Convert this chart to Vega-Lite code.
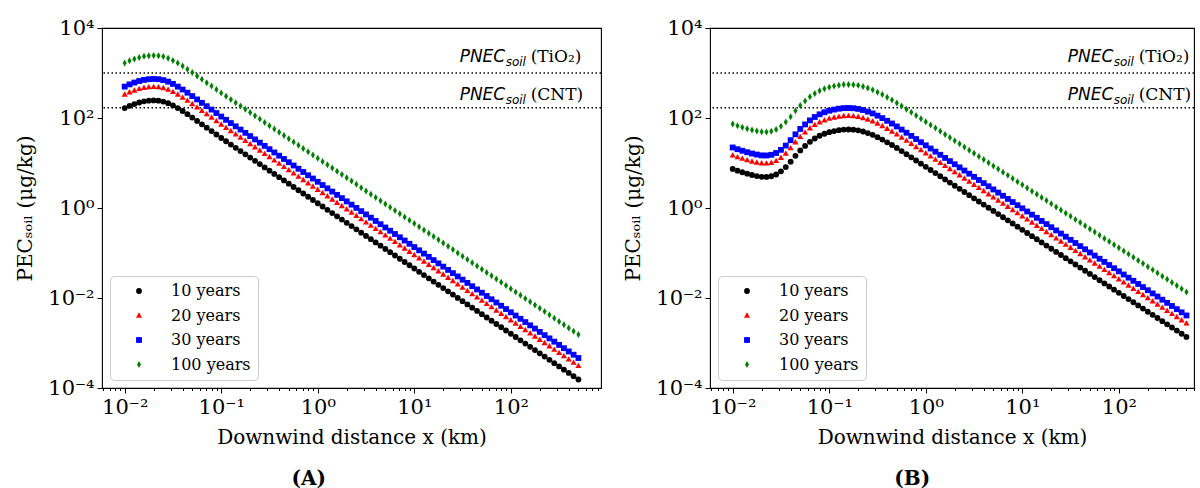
{
"$schema": "https://vega.github.io/schema/vega-lite/v6.json",
"background": "white",
"padding": {"left": 15, "top": 16, "right": 0, "bottom": 0},
"spacing": 20,
"config": {
  "view": {"stroke": "#000000", "strokeWidth": 1.1},
  "axis": {"domain": false, "grid": false, "labelFont": "DejaVu Serif", "labelFontSize": 21, "labelColor": "#000000", "tickColor": "#000000", "tickWidth": 1, "titleFont": "DejaVu Serif", "titleFontSize": 20, "titleFontWeight": "normal", "titleColor": "#000000", "labelPadding": 3, "labelFlush": false, "labelOverlap": false, "labelBound": false},
  "legend": {"orient": "bottom-left", "offset": 8, "title": null, "labelFont": "DejaVu Serif", "labelFontSize": 16, "labelColor": "#000000", "fillColor": "#ffffff", "strokeColor": "#cccccc", "cornerRadius": 4, "padding": 7, "rowPadding": 8.5, "symbolOffset": 14, "labelOffset": 24, "symbolStrokeWidth": 0, "symbolSize": 34},
  "title": {"font": "DejaVu Serif", "fontSize": 20, "fontWeight": "bold", "color": "#000000"}
},
"datasets": {
"pnec": [{"y": 1000}, {"y": 170}],
"lab": [{"a": "PNEC", "b": "soil", "c": "(TiO₂)", "x": 29.5, "y": 1730}, {"a": "PNEC", "b": "soil", "c": "(CNT)", "x": 29.5, "y": 247}],
"A": [
{"s":"10 years","x":0.01,"y":166},{"s":"10 years","x":0.01122,"y":186.2},{"s":"10 years","x":0.01259,"y":204.2},{"s":"10 years","x":0.01413,"y":221.3},{"s":"10 years","x":0.01585,"y":234.4},{"s":"10 years","x":0.01778,"y":242.7},{"s":"10 years","x":0.01995,"y":245.5},{"s":"10 years","x":0.02239,"y":242.7},{"s":"10 years","x":0.02512,"y":231.7},{"s":"10 years","x":0.02818,"y":213.8},
{"s":"10 years","x":0.03162,"y":190.5},{"s":"10 years","x":0.03548,"y":166},{"s":"10 years","x":0.03981,"y":142.9},{"s":"10 years","x":0.04467,"y":121.6},{"s":"10 years","x":0.05012,"y":102.3},{"s":"10 years","x":0.05623,"y":86.1},{"s":"10 years","x":0.0631,"y":72.44},{"s":"10 years","x":0.07079,"y":60.95},{"s":"10 years","x":0.07943,"y":51.29},{"s":"10 years","x":0.08913,"y":42.9},
{"s":"10 years","x":0.1,"y":35.89},{"s":"10 years","x":0.1122,"y":30.37},{"s":"10 years","x":0.1259,"y":25.7},{"s":"10 years","x":0.1413,"y":21.75},{"s":"10 years","x":0.1585,"y":18.41},{"s":"10 years","x":0.1778,"y":15.58},{"s":"10 years","x":0.1995,"y":13.18},{"s":"10 years","x":0.2239,"y":11.16},{"s":"10 years","x":0.2512,"y":9.441},{"s":"10 years","x":0.2818,"y":7.989},
{"s":"10 years","x":0.3162,"y":6.761},{"s":"10 years","x":0.3548,"y":5.721},{"s":"10 years","x":0.3981,"y":4.842},{"s":"10 years","x":0.4467,"y":4.097},{"s":"10 years","x":0.5012,"y":3.467},{"s":"10 years","x":0.5623,"y":2.934},{"s":"10 years","x":0.631,"y":2.483},{"s":"10 years","x":0.7079,"y":2.101},{"s":"10 years","x":0.7943,"y":1.778},{"s":"10 years","x":0.8913,"y":1.505},
{"s":"10 years","x":1,"y":1.274},{"s":"10 years","x":1.122,"y":1.078},{"s":"10 years","x":1.259,"y":0.912},{"s":"10 years","x":1.413,"y":0.7718},{"s":"10 years","x":1.585,"y":0.6531},{"s":"10 years","x":1.778,"y":0.5528},{"s":"10 years","x":1.995,"y":0.4677},{"s":"10 years","x":2.239,"y":0.3958},{"s":"10 years","x":2.512,"y":0.335},{"s":"10 years","x":2.818,"y":0.2834},
{"s":"10 years","x":3.162,"y":0.2399},{"s":"10 years","x":3.548,"y":0.203},{"s":"10 years","x":3.981,"y":0.1718},{"s":"10 years","x":4.467,"y":0.1454},{"s":"10 years","x":5.012,"y":0.123},{"s":"10 years","x":5.623,"y":0.1041},{"s":"10 years","x":6.31,"y":0.08811},{"s":"10 years","x":7.079,"y":0.07456},{"s":"10 years","x":7.943,"y":0.0631},{"s":"10 years","x":8.913,"y":0.05339},
{"s":"10 years","x":10,"y":0.04518},{"s":"10 years","x":11.22,"y":0.03823},{"s":"10 years","x":12.59,"y":0.03235},{"s":"10 years","x":14.13,"y":0.02738},{"s":"10 years","x":15.85,"y":0.02318},{"s":"10 years","x":17.78,"y":0.01961},{"s":"10 years","x":19.95,"y":0.01659},{"s":"10 years","x":22.39,"y":0.01404},{"s":"10 years","x":25.12,"y":0.01189},{"s":"10 years","x":28.18,"y":0.01006},
{"s":"10 years","x":31.62,"y":0.008511},{"s":"10 years","x":35.48,"y":0.007202},{"s":"10 years","x":39.81,"y":0.006096},{"s":"10 years","x":44.67,"y":0.005158},{"s":"10 years","x":50.12,"y":0.004365},{"s":"10 years","x":56.23,"y":0.003694},{"s":"10 years","x":63.1,"y":0.003126},{"s":"10 years","x":70.79,"y":0.002645},{"s":"10 years","x":79.43,"y":0.002238},{"s":"10 years","x":89.13,"y":0.001895},
{"s":"10 years","x":100,"y":0.001604},{"s":"10 years","x":112.2,"y":0.001357},{"s":"10 years","x":125.9,"y":0.001148},{"s":"10 years","x":141.3,"y":0.0009716},{"s":"10 years","x":158.5,"y":0.0008222},{"s":"10 years","x":177.8,"y":0.0006959},{"s":"10 years","x":199.5,"y":0.0005888},{"s":"10 years","x":223.9,"y":0.0004983},{"s":"10 years","x":251.2,"y":0.0004217},{"s":"10 years","x":281.8,"y":0.0003568},
{"s":"10 years","x":316.2,"y":0.000302},{"s":"10 years","x":354.8,"y":0.0002556},{"s":"10 years","x":398.1,"y":0.0002163},{"s":"10 years","x":446.7,"y":0.000183},{"s":"10 years","x":501.2,"y":0.0001548},
{"s":"20 years","x":0.01,"y":332},{"s":"20 years","x":0.01122,"y":372.4},{"s":"20 years","x":0.01259,"y":408.4},{"s":"20 years","x":0.01413,"y":442.6},{"s":"20 years","x":0.01585,"y":468.8},{"s":"20 years","x":0.01778,"y":485.4},{"s":"20 years","x":0.01995,"y":491},{"s":"20 years","x":0.02239,"y":485.4},{"s":"20 years","x":0.02512,"y":463.4},{"s":"20 years","x":0.02818,"y":427.6},
{"s":"20 years","x":0.03162,"y":381},{"s":"20 years","x":0.03548,"y":332},{"s":"20 years","x":0.03981,"y":285.8},{"s":"20 years","x":0.04467,"y":243.2},{"s":"20 years","x":0.05012,"y":204.6},{"s":"20 years","x":0.05623,"y":172.2},{"s":"20 years","x":0.0631,"y":144.9},{"s":"20 years","x":0.07079,"y":121.9},{"s":"20 years","x":0.07943,"y":102.6},{"s":"20 years","x":0.08913,"y":85.8},
{"s":"20 years","x":0.1,"y":71.78},{"s":"20 years","x":0.1122,"y":60.74},{"s":"20 years","x":0.1259,"y":51.4},{"s":"20 years","x":0.1413,"y":43.5},{"s":"20 years","x":0.1585,"y":36.82},{"s":"20 years","x":0.1778,"y":31.16},{"s":"20 years","x":0.1995,"y":26.36},{"s":"20 years","x":0.2239,"y":22.32},{"s":"20 years","x":0.2512,"y":18.88},{"s":"20 years","x":0.2818,"y":15.98},
{"s":"20 years","x":0.3162,"y":13.52},{"s":"20 years","x":0.3548,"y":11.44},{"s":"20 years","x":0.3981,"y":9.684},{"s":"20 years","x":0.4467,"y":8.194},{"s":"20 years","x":0.5012,"y":6.934},{"s":"20 years","x":0.5623,"y":5.868},{"s":"20 years","x":0.631,"y":4.966},{"s":"20 years","x":0.7079,"y":4.202},{"s":"20 years","x":0.7943,"y":3.556},{"s":"20 years","x":0.8913,"y":3.01},
{"s":"20 years","x":1,"y":2.548},{"s":"20 years","x":1.122,"y":2.156},{"s":"20 years","x":1.259,"y":1.824},{"s":"20 years","x":1.413,"y":1.544},{"s":"20 years","x":1.585,"y":1.306},{"s":"20 years","x":1.778,"y":1.106},{"s":"20 years","x":1.995,"y":0.9354},{"s":"20 years","x":2.239,"y":0.7916},{"s":"20 years","x":2.512,"y":0.67},{"s":"20 years","x":2.818,"y":0.5668},
{"s":"20 years","x":3.162,"y":0.4798},{"s":"20 years","x":3.548,"y":0.406},{"s":"20 years","x":3.981,"y":0.3436},{"s":"20 years","x":4.467,"y":0.2908},{"s":"20 years","x":5.012,"y":0.246},{"s":"20 years","x":5.623,"y":0.2082},{"s":"20 years","x":6.31,"y":0.1762},{"s":"20 years","x":7.079,"y":0.1491},{"s":"20 years","x":7.943,"y":0.1262},{"s":"20 years","x":8.913,"y":0.1068},
{"s":"20 years","x":10,"y":0.09036},{"s":"20 years","x":11.22,"y":0.07646},{"s":"20 years","x":12.59,"y":0.0647},{"s":"20 years","x":14.13,"y":0.05476},{"s":"20 years","x":15.85,"y":0.04636},{"s":"20 years","x":17.78,"y":0.03922},{"s":"20 years","x":19.95,"y":0.03318},{"s":"20 years","x":22.39,"y":0.02808},{"s":"20 years","x":25.12,"y":0.02378},{"s":"20 years","x":28.18,"y":0.02012},
{"s":"20 years","x":31.62,"y":0.01702},{"s":"20 years","x":35.48,"y":0.0144},{"s":"20 years","x":39.81,"y":0.01219},{"s":"20 years","x":44.67,"y":0.01032},{"s":"20 years","x":50.12,"y":0.00873},{"s":"20 years","x":56.23,"y":0.007388},{"s":"20 years","x":63.1,"y":0.006252},{"s":"20 years","x":70.79,"y":0.00529},{"s":"20 years","x":79.43,"y":0.004476},{"s":"20 years","x":89.13,"y":0.00379},
{"s":"20 years","x":100,"y":0.003208},{"s":"20 years","x":112.2,"y":0.002714},{"s":"20 years","x":125.9,"y":0.002296},{"s":"20 years","x":141.3,"y":0.001943},{"s":"20 years","x":158.5,"y":0.001644},{"s":"20 years","x":177.8,"y":0.001392},{"s":"20 years","x":199.5,"y":0.001178},{"s":"20 years","x":223.9,"y":0.0009966},{"s":"20 years","x":251.2,"y":0.0008434},{"s":"20 years","x":281.8,"y":0.0007136},
{"s":"20 years","x":316.2,"y":0.000604},{"s":"20 years","x":354.8,"y":0.0005112},{"s":"20 years","x":398.1,"y":0.0004326},{"s":"20 years","x":446.7,"y":0.000366},{"s":"20 years","x":501.2,"y":0.0003096},
{"s":"30 years","x":0.01,"y":498},{"s":"30 years","x":0.01122,"y":558.6},{"s":"30 years","x":0.01259,"y":612.6},{"s":"30 years","x":0.01413,"y":663.9},{"s":"30 years","x":0.01585,"y":703.2},{"s":"30 years","x":0.01778,"y":728.1},{"s":"30 years","x":0.01995,"y":736.5},{"s":"30 years","x":0.02239,"y":728.1},{"s":"30 years","x":0.02512,"y":695.1},{"s":"30 years","x":0.02818,"y":641.4},
{"s":"30 years","x":0.03162,"y":571.5},{"s":"30 years","x":0.03548,"y":498},{"s":"30 years","x":0.03981,"y":428.7},{"s":"30 years","x":0.04467,"y":364.8},{"s":"30 years","x":0.05012,"y":306.9},{"s":"30 years","x":0.05623,"y":258.3},{"s":"30 years","x":0.0631,"y":217.3},{"s":"30 years","x":0.07079,"y":182.9},{"s":"30 years","x":0.07943,"y":153.9},{"s":"30 years","x":0.08913,"y":128.7},
{"s":"30 years","x":0.1,"y":107.7},{"s":"30 years","x":0.1122,"y":91.11},{"s":"30 years","x":0.1259,"y":77.1},{"s":"30 years","x":0.1413,"y":65.25},{"s":"30 years","x":0.1585,"y":55.23},{"s":"30 years","x":0.1778,"y":46.74},{"s":"30 years","x":0.1995,"y":39.54},{"s":"30 years","x":0.2239,"y":33.48},{"s":"30 years","x":0.2512,"y":28.32},{"s":"30 years","x":0.2818,"y":23.97},
{"s":"30 years","x":0.3162,"y":20.28},{"s":"30 years","x":0.3548,"y":17.16},{"s":"30 years","x":0.3981,"y":14.53},{"s":"30 years","x":0.4467,"y":12.29},{"s":"30 years","x":0.5012,"y":10.4},{"s":"30 years","x":0.5623,"y":8.802},{"s":"30 years","x":0.631,"y":7.449},{"s":"30 years","x":0.7079,"y":6.303},{"s":"30 years","x":0.7943,"y":5.334},{"s":"30 years","x":0.8913,"y":4.515},
{"s":"30 years","x":1,"y":3.822},{"s":"30 years","x":1.122,"y":3.234},{"s":"30 years","x":1.259,"y":2.736},{"s":"30 years","x":1.413,"y":2.315},{"s":"30 years","x":1.585,"y":1.959},{"s":"30 years","x":1.778,"y":1.658},{"s":"30 years","x":1.995,"y":1.403},{"s":"30 years","x":2.239,"y":1.187},{"s":"30 years","x":2.512,"y":1.005},{"s":"30 years","x":2.818,"y":0.8502},
{"s":"30 years","x":3.162,"y":0.7197},{"s":"30 years","x":3.548,"y":0.609},{"s":"30 years","x":3.981,"y":0.5154},{"s":"30 years","x":4.467,"y":0.4362},{"s":"30 years","x":5.012,"y":0.369},{"s":"30 years","x":5.623,"y":0.3123},{"s":"30 years","x":6.31,"y":0.2643},{"s":"30 years","x":7.079,"y":0.2237},{"s":"30 years","x":7.943,"y":0.1893},{"s":"30 years","x":8.913,"y":0.1602},
{"s":"30 years","x":10,"y":0.1355},{"s":"30 years","x":11.22,"y":0.1147},{"s":"30 years","x":12.59,"y":0.09705},{"s":"30 years","x":14.13,"y":0.08214},{"s":"30 years","x":15.85,"y":0.06954},{"s":"30 years","x":17.78,"y":0.05883},{"s":"30 years","x":19.95,"y":0.04977},{"s":"30 years","x":22.39,"y":0.04212},{"s":"30 years","x":25.12,"y":0.03567},{"s":"30 years","x":28.18,"y":0.03018},
{"s":"30 years","x":31.62,"y":0.02553},{"s":"30 years","x":35.48,"y":0.02161},{"s":"30 years","x":39.81,"y":0.01829},{"s":"30 years","x":44.67,"y":0.01547},{"s":"30 years","x":50.12,"y":0.0131},{"s":"30 years","x":56.23,"y":0.01108},{"s":"30 years","x":63.1,"y":0.009378},{"s":"30 years","x":70.79,"y":0.007935},{"s":"30 years","x":79.43,"y":0.006714},{"s":"30 years","x":89.13,"y":0.005685},
{"s":"30 years","x":100,"y":0.004812},{"s":"30 years","x":112.2,"y":0.004071},{"s":"30 years","x":125.9,"y":0.003444},{"s":"30 years","x":141.3,"y":0.002915},{"s":"30 years","x":158.5,"y":0.002467},{"s":"30 years","x":177.8,"y":0.002088},{"s":"30 years","x":199.5,"y":0.001766},{"s":"30 years","x":223.9,"y":0.001495},{"s":"30 years","x":251.2,"y":0.001265},{"s":"30 years","x":281.8,"y":0.00107},
{"s":"30 years","x":316.2,"y":0.000906},{"s":"30 years","x":354.8,"y":0.0007668},{"s":"30 years","x":398.1,"y":0.0006489},{"s":"30 years","x":446.7,"y":0.000549},{"s":"30 years","x":501.2,"y":0.0004644},
{"s":"100 years","x":0.01,"y":1660},{"s":"100 years","x":0.01122,"y":1862},{"s":"100 years","x":0.01259,"y":2042},{"s":"100 years","x":0.01413,"y":2213},{"s":"100 years","x":0.01585,"y":2344},{"s":"100 years","x":0.01778,"y":2427},{"s":"100 years","x":0.01995,"y":2455},{"s":"100 years","x":0.02239,"y":2427},{"s":"100 years","x":0.02512,"y":2317},{"s":"100 years","x":0.02818,"y":2138},
{"s":"100 years","x":0.03162,"y":1905},{"s":"100 years","x":0.03548,"y":1660},{"s":"100 years","x":0.03981,"y":1429},{"s":"100 years","x":0.04467,"y":1216},{"s":"100 years","x":0.05012,"y":1023},{"s":"100 years","x":0.05623,"y":861},{"s":"100 years","x":0.0631,"y":724.4},{"s":"100 years","x":0.07079,"y":609.5},{"s":"100 years","x":0.07943,"y":512.9},{"s":"100 years","x":0.08913,"y":429},
{"s":"100 years","x":0.1,"y":358.9},{"s":"100 years","x":0.1122,"y":303.7},{"s":"100 years","x":0.1259,"y":257},{"s":"100 years","x":0.1413,"y":217.5},{"s":"100 years","x":0.1585,"y":184.1},{"s":"100 years","x":0.1778,"y":155.8},{"s":"100 years","x":0.1995,"y":131.8},{"s":"100 years","x":0.2239,"y":111.6},{"s":"100 years","x":0.2512,"y":94.41},{"s":"100 years","x":0.2818,"y":79.89},
{"s":"100 years","x":0.3162,"y":67.61},{"s":"100 years","x":0.3548,"y":57.21},{"s":"100 years","x":0.3981,"y":48.42},{"s":"100 years","x":0.4467,"y":40.97},{"s":"100 years","x":0.5012,"y":34.67},{"s":"100 years","x":0.5623,"y":29.34},{"s":"100 years","x":0.631,"y":24.83},{"s":"100 years","x":0.7079,"y":21.01},{"s":"100 years","x":0.7943,"y":17.78},{"s":"100 years","x":0.8913,"y":15.05},
{"s":"100 years","x":1,"y":12.74},{"s":"100 years","x":1.122,"y":10.78},{"s":"100 years","x":1.259,"y":9.12},{"s":"100 years","x":1.413,"y":7.718},{"s":"100 years","x":1.585,"y":6.531},{"s":"100 years","x":1.778,"y":5.528},{"s":"100 years","x":1.995,"y":4.677},{"s":"100 years","x":2.239,"y":3.958},{"s":"100 years","x":2.512,"y":3.35},{"s":"100 years","x":2.818,"y":2.834},
{"s":"100 years","x":3.162,"y":2.399},{"s":"100 years","x":3.548,"y":2.03},{"s":"100 years","x":3.981,"y":1.718},{"s":"100 years","x":4.467,"y":1.454},{"s":"100 years","x":5.012,"y":1.23},{"s":"100 years","x":5.623,"y":1.041},{"s":"100 years","x":6.31,"y":0.8811},{"s":"100 years","x":7.079,"y":0.7456},{"s":"100 years","x":7.943,"y":0.631},{"s":"100 years","x":8.913,"y":0.5339},
{"s":"100 years","x":10,"y":0.4518},{"s":"100 years","x":11.22,"y":0.3823},{"s":"100 years","x":12.59,"y":0.3235},{"s":"100 years","x":14.13,"y":0.2738},{"s":"100 years","x":15.85,"y":0.2318},{"s":"100 years","x":17.78,"y":0.1961},{"s":"100 years","x":19.95,"y":0.1659},{"s":"100 years","x":22.39,"y":0.1404},{"s":"100 years","x":25.12,"y":0.1189},{"s":"100 years","x":28.18,"y":0.1006},
{"s":"100 years","x":31.62,"y":0.08511},{"s":"100 years","x":35.48,"y":0.07202},{"s":"100 years","x":39.81,"y":0.06096},{"s":"100 years","x":44.67,"y":0.05158},{"s":"100 years","x":50.12,"y":0.04365},{"s":"100 years","x":56.23,"y":0.03694},{"s":"100 years","x":63.1,"y":0.03126},{"s":"100 years","x":70.79,"y":0.02645},{"s":"100 years","x":79.43,"y":0.02238},{"s":"100 years","x":89.13,"y":0.01895},
{"s":"100 years","x":100,"y":0.01604},{"s":"100 years","x":112.2,"y":0.01357},{"s":"100 years","x":125.9,"y":0.01148},{"s":"100 years","x":141.3,"y":0.009716},{"s":"100 years","x":158.5,"y":0.008222},{"s":"100 years","x":177.8,"y":0.006959},{"s":"100 years","x":199.5,"y":0.005888},{"s":"100 years","x":223.9,"y":0.004983},{"s":"100 years","x":251.2,"y":0.004217},{"s":"100 years","x":281.8,"y":0.003568},
{"s":"100 years","x":316.2,"y":0.00302},{"s":"100 years","x":354.8,"y":0.002556},{"s":"100 years","x":398.1,"y":0.002163},{"s":"100 years","x":446.7,"y":0.00183},{"s":"100 years","x":501.2,"y":0.001548}
],
"B": [
{"s":"10 years","x":0.01,"y":7.379},{"s":"10 years","x":0.01122,"y":6.761},{"s":"10 years","x":0.01259,"y":6.237},{"s":"10 years","x":0.01413,"y":5.781},{"s":"10 years","x":0.01585,"y":5.408},{"s":"10 years","x":0.01778,"y":5.129},{"s":"10 years","x":0.01995,"y":4.92},{"s":"10 years","x":0.02239,"y":4.898},{"s":"10 years","x":0.02512,"y":5.07},{"s":"10 years","x":0.02818,"y":5.559},
{"s":"10 years","x":0.03162,"y":6.531},{"s":"10 years","x":0.03548,"y":8.128},{"s":"10 years","x":0.03981,"y":10.72},{"s":"10 years","x":0.04467,"y":14.45},{"s":"10 years","x":0.05012,"y":19.05},{"s":"10 years","x":0.05623,"y":23.99},{"s":"10 years","x":0.0631,"y":29.51},{"s":"10 years","x":0.07079,"y":35.08},{"s":"10 years","x":0.07943,"y":40.27},{"s":"10 years","x":0.08913,"y":44.67},
{"s":"10 years","x":0.1,"y":48.42},{"s":"10 years","x":0.1122,"y":51.29},{"s":"10 years","x":0.1259,"y":53.7},{"s":"10 years","x":0.1413,"y":55.21},{"s":"10 years","x":0.1585,"y":55.59},{"s":"10 years","x":0.1778,"y":54.95},{"s":"10 years","x":0.1995,"y":53.09},{"s":"10 years","x":0.2239,"y":50.12},{"s":"10 years","x":0.2512,"y":46.24},{"s":"10 years","x":0.2818,"y":42.17},
{"s":"10 years","x":0.3162,"y":37.58},{"s":"10 years","x":0.3548,"y":33.11},{"s":"10 years","x":0.3981,"y":28.84},{"s":"10 years","x":0.4467,"y":25.12},{"s":"10 years","x":0.5012,"y":21.63},{"s":"10 years","x":0.5623,"y":18.41},{"s":"10 years","x":0.631,"y":15.67},{"s":"10 years","x":0.7079,"y":13.34},{"s":"10 years","x":0.7943,"y":11.35},{"s":"10 years","x":0.8913,"y":9.661},
{"s":"10 years","x":1,"y":8.222},{"s":"10 years","x":1.122,"y":6.998},{"s":"10 years","x":1.259,"y":5.957},{"s":"10 years","x":1.413,"y":5.07},{"s":"10 years","x":1.585,"y":4.315},{"s":"10 years","x":1.778,"y":3.673},{"s":"10 years","x":1.995,"y":3.126},{"s":"10 years","x":2.239,"y":2.661},{"s":"10 years","x":2.512,"y":2.265},{"s":"10 years","x":2.818,"y":1.928},
{"s":"10 years","x":3.162,"y":1.641},{"s":"10 years","x":3.548,"y":1.396},{"s":"10 years","x":3.981,"y":1.189},{"s":"10 years","x":4.467,"y":1.012},{"s":"10 years","x":5.012,"y":0.861},{"s":"10 years","x":5.623,"y":0.7328},{"s":"10 years","x":6.31,"y":0.6237},{"s":"10 years","x":7.079,"y":0.5309},{"s":"10 years","x":7.943,"y":0.4519},{"s":"10 years","x":8.913,"y":0.3846},
{"s":"10 years","x":10,"y":0.3273},{"s":"10 years","x":11.22,"y":0.2786},{"s":"10 years","x":12.59,"y":0.2371},{"s":"10 years","x":14.13,"y":0.2018},{"s":"10 years","x":15.85,"y":0.1718},{"s":"10 years","x":17.78,"y":0.1462},{"s":"10 years","x":19.95,"y":0.1245},{"s":"10 years","x":22.39,"y":0.1059},{"s":"10 years","x":25.12,"y":0.09016},{"s":"10 years","x":28.18,"y":0.07674},
{"s":"10 years","x":31.62,"y":0.06531},{"s":"10 years","x":35.48,"y":0.05559},{"s":"10 years","x":39.81,"y":0.04732},{"s":"10 years","x":44.67,"y":0.04027},{"s":"10 years","x":50.12,"y":0.03428},{"s":"10 years","x":56.23,"y":0.02917},{"s":"10 years","x":63.1,"y":0.02483},{"s":"10 years","x":70.79,"y":0.02113},{"s":"10 years","x":79.43,"y":0.01799},{"s":"10 years","x":89.13,"y":0.01531},
{"s":"10 years","x":100,"y":0.01303},{"s":"10 years","x":112.2,"y":0.01109},{"s":"10 years","x":125.9,"y":0.009441},{"s":"10 years","x":141.3,"y":0.008035},{"s":"10 years","x":158.5,"y":0.006839},{"s":"10 years","x":177.8,"y":0.005821},{"s":"10 years","x":199.5,"y":0.004955},{"s":"10 years","x":223.9,"y":0.004217},{"s":"10 years","x":251.2,"y":0.003589},{"s":"10 years","x":281.8,"y":0.003055},
{"s":"10 years","x":316.2,"y":0.0026},{"s":"10 years","x":354.8,"y":0.002213},{"s":"10 years","x":398.1,"y":0.001884},{"s":"10 years","x":446.7,"y":0.001603},{"s":"10 years","x":501.2,"y":0.001365},
{"s":"20 years","x":0.01,"y":14.76},{"s":"20 years","x":0.01122,"y":13.52},{"s":"20 years","x":0.01259,"y":12.47},{"s":"20 years","x":0.01413,"y":11.56},{"s":"20 years","x":0.01585,"y":10.82},{"s":"20 years","x":0.01778,"y":10.26},{"s":"20 years","x":0.01995,"y":9.84},{"s":"20 years","x":0.02239,"y":9.796},{"s":"20 years","x":0.02512,"y":10.14},{"s":"20 years","x":0.02818,"y":11.12},
{"s":"20 years","x":0.03162,"y":13.06},{"s":"20 years","x":0.03548,"y":16.26},{"s":"20 years","x":0.03981,"y":21.44},{"s":"20 years","x":0.04467,"y":28.9},{"s":"20 years","x":0.05012,"y":38.1},{"s":"20 years","x":0.05623,"y":47.98},{"s":"20 years","x":0.0631,"y":59.02},{"s":"20 years","x":0.07079,"y":70.16},{"s":"20 years","x":0.07943,"y":80.54},{"s":"20 years","x":0.08913,"y":89.34},
{"s":"20 years","x":0.1,"y":96.84},{"s":"20 years","x":0.1122,"y":102.6},{"s":"20 years","x":0.1259,"y":107.4},{"s":"20 years","x":0.1413,"y":110.4},{"s":"20 years","x":0.1585,"y":111.2},{"s":"20 years","x":0.1778,"y":109.9},{"s":"20 years","x":0.1995,"y":106.2},{"s":"20 years","x":0.2239,"y":100.2},{"s":"20 years","x":0.2512,"y":92.48},{"s":"20 years","x":0.2818,"y":84.34},
{"s":"20 years","x":0.3162,"y":75.16},{"s":"20 years","x":0.3548,"y":66.22},{"s":"20 years","x":0.3981,"y":57.68},{"s":"20 years","x":0.4467,"y":50.24},{"s":"20 years","x":0.5012,"y":43.26},{"s":"20 years","x":0.5623,"y":36.82},{"s":"20 years","x":0.631,"y":31.34},{"s":"20 years","x":0.7079,"y":26.68},{"s":"20 years","x":0.7943,"y":22.7},{"s":"20 years","x":0.8913,"y":19.32},
{"s":"20 years","x":1,"y":16.44},{"s":"20 years","x":1.122,"y":14},{"s":"20 years","x":1.259,"y":11.91},{"s":"20 years","x":1.413,"y":10.14},{"s":"20 years","x":1.585,"y":8.63},{"s":"20 years","x":1.778,"y":7.346},{"s":"20 years","x":1.995,"y":6.252},{"s":"20 years","x":2.239,"y":5.322},{"s":"20 years","x":2.512,"y":4.53},{"s":"20 years","x":2.818,"y":3.856},
{"s":"20 years","x":3.162,"y":3.282},{"s":"20 years","x":3.548,"y":2.792},{"s":"20 years","x":3.981,"y":2.378},{"s":"20 years","x":4.467,"y":2.024},{"s":"20 years","x":5.012,"y":1.722},{"s":"20 years","x":5.623,"y":1.466},{"s":"20 years","x":6.31,"y":1.247},{"s":"20 years","x":7.079,"y":1.062},{"s":"20 years","x":7.943,"y":0.9038},{"s":"20 years","x":8.913,"y":0.7692},
{"s":"20 years","x":10,"y":0.6546},{"s":"20 years","x":11.22,"y":0.5572},{"s":"20 years","x":12.59,"y":0.4742},{"s":"20 years","x":14.13,"y":0.4036},{"s":"20 years","x":15.85,"y":0.3436},{"s":"20 years","x":17.78,"y":0.2924},{"s":"20 years","x":19.95,"y":0.249},{"s":"20 years","x":22.39,"y":0.2118},{"s":"20 years","x":25.12,"y":0.1803},{"s":"20 years","x":28.18,"y":0.1535},
{"s":"20 years","x":31.62,"y":0.1306},{"s":"20 years","x":35.48,"y":0.1112},{"s":"20 years","x":39.81,"y":0.09464},{"s":"20 years","x":44.67,"y":0.08054},{"s":"20 years","x":50.12,"y":0.06856},{"s":"20 years","x":56.23,"y":0.05834},{"s":"20 years","x":63.1,"y":0.04966},{"s":"20 years","x":70.79,"y":0.04226},{"s":"20 years","x":79.43,"y":0.03598},{"s":"20 years","x":89.13,"y":0.03062},
{"s":"20 years","x":100,"y":0.02606},{"s":"20 years","x":112.2,"y":0.02218},{"s":"20 years","x":125.9,"y":0.01888},{"s":"20 years","x":141.3,"y":0.01607},{"s":"20 years","x":158.5,"y":0.01368},{"s":"20 years","x":177.8,"y":0.01164},{"s":"20 years","x":199.5,"y":0.00991},{"s":"20 years","x":223.9,"y":0.008434},{"s":"20 years","x":251.2,"y":0.007178},{"s":"20 years","x":281.8,"y":0.00611},
{"s":"20 years","x":316.2,"y":0.0052},{"s":"20 years","x":354.8,"y":0.004426},{"s":"20 years","x":398.1,"y":0.003768},{"s":"20 years","x":446.7,"y":0.003206},{"s":"20 years","x":501.2,"y":0.00273},
{"s":"30 years","x":0.01,"y":22.14},{"s":"30 years","x":0.01122,"y":20.28},{"s":"30 years","x":0.01259,"y":18.71},{"s":"30 years","x":0.01413,"y":17.34},{"s":"30 years","x":0.01585,"y":16.22},{"s":"30 years","x":0.01778,"y":15.39},{"s":"30 years","x":0.01995,"y":14.76},{"s":"30 years","x":0.02239,"y":14.69},{"s":"30 years","x":0.02512,"y":15.21},{"s":"30 years","x":0.02818,"y":16.68},
{"s":"30 years","x":0.03162,"y":19.59},{"s":"30 years","x":0.03548,"y":24.38},{"s":"30 years","x":0.03981,"y":32.16},{"s":"30 years","x":0.04467,"y":43.35},{"s":"30 years","x":0.05012,"y":57.15},{"s":"30 years","x":0.05623,"y":71.97},{"s":"30 years","x":0.0631,"y":88.53},{"s":"30 years","x":0.07079,"y":105.2},{"s":"30 years","x":0.07943,"y":120.8},{"s":"30 years","x":0.08913,"y":134},
{"s":"30 years","x":0.1,"y":145.3},{"s":"30 years","x":0.1122,"y":153.9},{"s":"30 years","x":0.1259,"y":161.1},{"s":"30 years","x":0.1413,"y":165.6},{"s":"30 years","x":0.1585,"y":166.8},{"s":"30 years","x":0.1778,"y":164.9},{"s":"30 years","x":0.1995,"y":159.3},{"s":"30 years","x":0.2239,"y":150.4},{"s":"30 years","x":0.2512,"y":138.7},{"s":"30 years","x":0.2818,"y":126.5},
{"s":"30 years","x":0.3162,"y":112.7},{"s":"30 years","x":0.3548,"y":99.33},{"s":"30 years","x":0.3981,"y":86.52},{"s":"30 years","x":0.4467,"y":75.36},{"s":"30 years","x":0.5012,"y":64.89},{"s":"30 years","x":0.5623,"y":55.23},{"s":"30 years","x":0.631,"y":47.01},{"s":"30 years","x":0.7079,"y":40.02},{"s":"30 years","x":0.7943,"y":34.05},{"s":"30 years","x":0.8913,"y":28.98},
{"s":"30 years","x":1,"y":24.67},{"s":"30 years","x":1.122,"y":20.99},{"s":"30 years","x":1.259,"y":17.87},{"s":"30 years","x":1.413,"y":15.21},{"s":"30 years","x":1.585,"y":12.95},{"s":"30 years","x":1.778,"y":11.02},{"s":"30 years","x":1.995,"y":9.378},{"s":"30 years","x":2.239,"y":7.983},{"s":"30 years","x":2.512,"y":6.795},{"s":"30 years","x":2.818,"y":5.784},
{"s":"30 years","x":3.162,"y":4.923},{"s":"30 years","x":3.548,"y":4.188},{"s":"30 years","x":3.981,"y":3.567},{"s":"30 years","x":4.467,"y":3.036},{"s":"30 years","x":5.012,"y":2.583},{"s":"30 years","x":5.623,"y":2.198},{"s":"30 years","x":6.31,"y":1.871},{"s":"30 years","x":7.079,"y":1.593},{"s":"30 years","x":7.943,"y":1.356},{"s":"30 years","x":8.913,"y":1.154},
{"s":"30 years","x":10,"y":0.9819},{"s":"30 years","x":11.22,"y":0.8358},{"s":"30 years","x":12.59,"y":0.7113},{"s":"30 years","x":14.13,"y":0.6054},{"s":"30 years","x":15.85,"y":0.5154},{"s":"30 years","x":17.78,"y":0.4386},{"s":"30 years","x":19.95,"y":0.3735},{"s":"30 years","x":22.39,"y":0.3177},{"s":"30 years","x":25.12,"y":0.2705},{"s":"30 years","x":28.18,"y":0.2302},
{"s":"30 years","x":31.62,"y":0.1959},{"s":"30 years","x":35.48,"y":0.1668},{"s":"30 years","x":39.81,"y":0.142},{"s":"30 years","x":44.67,"y":0.1208},{"s":"30 years","x":50.12,"y":0.1028},{"s":"30 years","x":56.23,"y":0.08751},{"s":"30 years","x":63.1,"y":0.07449},{"s":"30 years","x":70.79,"y":0.06339},{"s":"30 years","x":79.43,"y":0.05397},{"s":"30 years","x":89.13,"y":0.04593},
{"s":"30 years","x":100,"y":0.03909},{"s":"30 years","x":112.2,"y":0.03327},{"s":"30 years","x":125.9,"y":0.02832},{"s":"30 years","x":141.3,"y":0.02411},{"s":"30 years","x":158.5,"y":0.02052},{"s":"30 years","x":177.8,"y":0.01746},{"s":"30 years","x":199.5,"y":0.01487},{"s":"30 years","x":223.9,"y":0.01265},{"s":"30 years","x":251.2,"y":0.01077},{"s":"30 years","x":281.8,"y":0.009165},
{"s":"30 years","x":316.2,"y":0.0078},{"s":"30 years","x":354.8,"y":0.006639},{"s":"30 years","x":398.1,"y":0.005652},{"s":"30 years","x":446.7,"y":0.004809},{"s":"30 years","x":501.2,"y":0.004095},
{"s":"100 years","x":0.01,"y":73.79},{"s":"100 years","x":0.01122,"y":67.61},{"s":"100 years","x":0.01259,"y":62.37},{"s":"100 years","x":0.01413,"y":57.81},{"s":"100 years","x":0.01585,"y":54.08},{"s":"100 years","x":0.01778,"y":51.29},{"s":"100 years","x":0.01995,"y":49.2},{"s":"100 years","x":0.02239,"y":48.98},{"s":"100 years","x":0.02512,"y":50.7},{"s":"100 years","x":0.02818,"y":55.59},
{"s":"100 years","x":0.03162,"y":65.31},{"s":"100 years","x":0.03548,"y":81.28},{"s":"100 years","x":0.03981,"y":107.2},{"s":"100 years","x":0.04467,"y":144.5},{"s":"100 years","x":0.05012,"y":190.5},{"s":"100 years","x":0.05623,"y":239.9},{"s":"100 years","x":0.0631,"y":295.1},{"s":"100 years","x":0.07079,"y":350.8},{"s":"100 years","x":0.07943,"y":402.7},{"s":"100 years","x":0.08913,"y":446.7},
{"s":"100 years","x":0.1,"y":484.2},{"s":"100 years","x":0.1122,"y":512.9},{"s":"100 years","x":0.1259,"y":537},{"s":"100 years","x":0.1413,"y":552.1},{"s":"100 years","x":0.1585,"y":555.9},{"s":"100 years","x":0.1778,"y":549.5},{"s":"100 years","x":0.1995,"y":530.9},{"s":"100 years","x":0.2239,"y":501.2},{"s":"100 years","x":0.2512,"y":462.4},{"s":"100 years","x":0.2818,"y":421.7},
{"s":"100 years","x":0.3162,"y":375.8},{"s":"100 years","x":0.3548,"y":331.1},{"s":"100 years","x":0.3981,"y":288.4},{"s":"100 years","x":0.4467,"y":251.2},{"s":"100 years","x":0.5012,"y":216.3},{"s":"100 years","x":0.5623,"y":184.1},{"s":"100 years","x":0.631,"y":156.7},{"s":"100 years","x":0.7079,"y":133.4},{"s":"100 years","x":0.7943,"y":113.5},{"s":"100 years","x":0.8913,"y":96.61},
{"s":"100 years","x":1,"y":82.22},{"s":"100 years","x":1.122,"y":69.98},{"s":"100 years","x":1.259,"y":59.57},{"s":"100 years","x":1.413,"y":50.7},{"s":"100 years","x":1.585,"y":43.15},{"s":"100 years","x":1.778,"y":36.73},{"s":"100 years","x":1.995,"y":31.26},{"s":"100 years","x":2.239,"y":26.61},{"s":"100 years","x":2.512,"y":22.65},{"s":"100 years","x":2.818,"y":19.28},
{"s":"100 years","x":3.162,"y":16.41},{"s":"100 years","x":3.548,"y":13.96},{"s":"100 years","x":3.981,"y":11.89},{"s":"100 years","x":4.467,"y":10.12},{"s":"100 years","x":5.012,"y":8.61},{"s":"100 years","x":5.623,"y":7.328},{"s":"100 years","x":6.31,"y":6.237},{"s":"100 years","x":7.079,"y":5.309},{"s":"100 years","x":7.943,"y":4.519},{"s":"100 years","x":8.913,"y":3.846},
{"s":"100 years","x":10,"y":3.273},{"s":"100 years","x":11.22,"y":2.786},{"s":"100 years","x":12.59,"y":2.371},{"s":"100 years","x":14.13,"y":2.018},{"s":"100 years","x":15.85,"y":1.718},{"s":"100 years","x":17.78,"y":1.462},{"s":"100 years","x":19.95,"y":1.245},{"s":"100 years","x":22.39,"y":1.059},{"s":"100 years","x":25.12,"y":0.9016},{"s":"100 years","x":28.18,"y":0.7674},
{"s":"100 years","x":31.62,"y":0.6531},{"s":"100 years","x":35.48,"y":0.5559},{"s":"100 years","x":39.81,"y":0.4732},{"s":"100 years","x":44.67,"y":0.4027},{"s":"100 years","x":50.12,"y":0.3428},{"s":"100 years","x":56.23,"y":0.2917},{"s":"100 years","x":63.1,"y":0.2483},{"s":"100 years","x":70.79,"y":0.2113},{"s":"100 years","x":79.43,"y":0.1799},{"s":"100 years","x":89.13,"y":0.1531},
{"s":"100 years","x":100,"y":0.1303},{"s":"100 years","x":112.2,"y":0.1109},{"s":"100 years","x":125.9,"y":0.09441},{"s":"100 years","x":141.3,"y":0.08035},{"s":"100 years","x":158.5,"y":0.06839},{"s":"100 years","x":177.8,"y":0.05821},{"s":"100 years","x":199.5,"y":0.04955},{"s":"100 years","x":223.9,"y":0.04217},{"s":"100 years","x":251.2,"y":0.03589},{"s":"100 years","x":281.8,"y":0.03055},
{"s":"100 years","x":316.2,"y":0.026},{"s":"100 years","x":354.8,"y":0.02213},{"s":"100 years","x":398.1,"y":0.01884},{"s":"100 years","x":446.7,"y":0.01603},{"s":"100 years","x":501.2,"y":0.01365}
]
},
"hconcat": [
{
  "width": 499, "height": 360,
  "title": {"text": "(A)", "orient": "bottom", "anchor": "middle", "frame": "bounds", "offset": 22},
  "layer": [
    {"data": {"name": "pnec"}, "mark": {"type": "rule", "strokeDash": [1.5, 2.5], "strokeWidth": 1.5, "color": "#000000"},
     "encoding": {"y": {"field": "y", "type": "quantitative", "scale": {"type": "log", "domain": [0.0001, 10000], "nice": false}}}},
    {"data": {"name": "lab"}, "mark": {"type": "text", "align": "left", "baseline": "alphabetic", "font": "DejaVu Sans", "fontStyle": "italic", "fontSize": 17, "color": "#000000"},
     "encoding": {"x": {"field": "x", "type": "quantitative", "scale": {"type": "log", "domain": [0.005821, 859], "nice": false}}, "y": {"field": "y", "type": "quantitative", "scale": {"type": "log", "domain": [0.0001, 10000], "nice": false}}, "text": {"field": "a"}}},
    {"data": {"name": "lab"}, "mark": {"type": "text", "align": "left", "baseline": "alphabetic", "font": "DejaVu Sans", "fontStyle": "italic", "fontSize": 12, "dx": 46, "dy": 4, "color": "#000000"},
     "encoding": {"x": {"field": "x", "type": "quantitative", "scale": {"type": "log", "domain": [0.005821, 859], "nice": false}}, "y": {"field": "y", "type": "quantitative", "scale": {"type": "log", "domain": [0.0001, 10000], "nice": false}}, "text": {"field": "b"}}},
    {"data": {"name": "lab"}, "mark": {"type": "text", "align": "left", "baseline": "alphabetic", "font": "DejaVu Serif", "fontSize": 17, "dx": 71, "color": "#000000"},
     "encoding": {"x": {"field": "x", "type": "quantitative", "scale": {"type": "log", "domain": [0.005821, 859], "nice": false}}, "y": {"field": "y", "type": "quantitative", "scale": {"type": "log", "domain": [0.0001, 10000], "nice": false}}, "text": {"field": "c"}}},
    {"data": {"name": "A"}, "mark": {"type": "point", "filled": true, "opacity": 1, "size": 34, "strokeWidth": 0},
     "encoding": {
       "x": {"field": "x", "type": "quantitative", "scale": {"type": "log", "domain": [0.005821, 859], "nice": false},
         "axis": {"title": "Downwind distance x (km)", "titlePadding": 10,
           "values": [0.006,0.007,0.008,0.009,0.01,0.02,0.03,0.04,0.05,0.06,0.07,0.08,0.09,0.1,0.2,0.3,0.4,0.5,0.6,0.7,0.8,0.9,1,2,3,4,5,6,7,8,9,10,20,30,40,50,60,70,80,90,100,200,300,400,500,600,700,800],
           "labelExpr": "datum.value===0.01?'10⁻²':datum.value===0.1?'10⁻¹':datum.value===1?'10⁰':datum.value===10?'10¹':datum.value===100?'10²':''",
           "tickSize": {"condition": {"test": "datum.value===0.01||datum.value===0.1||datum.value===1||datum.value===10||datum.value===100", "value": 5}, "value": 2.5}}},
       "y": {"field": "y", "type": "quantitative", "scale": {"type": "log", "domain": [0.0001, 10000], "nice": false},
         "axis": {"title": "PECₛₒᵢₗ (μg/kg)", "titlePadding": 12, "values": [0.0001, 0.01, 1, 100, 10000], "tickSize": 5,
           "labelExpr": "datum.value===0.0001?'10⁻⁴':datum.value===0.01?'10⁻²':datum.value===1?'10⁰':datum.value===100?'10²':datum.value===10000?'10⁴':''"}},
       "color": {"field": "s", "type": "nominal", "scale": {"domain": ["10 years", "20 years", "30 years", "100 years"], "range": ["#000000", "#ff0000", "#0000ff", "#008000"]}},
       "shape": {"field": "s", "type": "nominal", "scale": {"domain": ["10 years", "20 years", "30 years", "100 years"], "range": ["circle", "M0,-1.1L1.05,0.75L-1.05,0.75Z", "square", "M0,-1.2L0.7,0L0,1.2L-0.7,0Z"]}}
     }}
  ]
},
{
  "width": 484, "height": 360,
  "title": {"text": "(B)", "orient": "bottom", "anchor": "middle", "frame": "bounds", "offset": 22, "dx": 3},
  "layer": [
    {"data": {"name": "pnec"}, "mark": {"type": "rule", "strokeDash": [1.5, 2.5], "strokeWidth": 1.5, "color": "#000000"},
     "encoding": {"y": {"field": "y", "type": "quantitative", "scale": {"type": "log", "domain": [0.0001, 10000], "nice": false}}}},
    {"data": {"name": "lab"}, "mark": {"type": "text", "align": "left", "baseline": "alphabetic", "font": "DejaVu Sans", "fontStyle": "italic", "fontSize": 17, "color": "#000000"},
     "encoding": {"x": {"field": "x", "type": "quantitative", "scale": {"type": "log", "domain": [0.005821, 600], "nice": false}}, "y": {"field": "y", "type": "quantitative", "scale": {"type": "log", "domain": [0.0001, 10000], "nice": false}}, "text": {"field": "a"}}},
    {"data": {"name": "lab"}, "mark": {"type": "text", "align": "left", "baseline": "alphabetic", "font": "DejaVu Sans", "fontStyle": "italic", "fontSize": 12, "dx": 46, "dy": 4, "color": "#000000"},
     "encoding": {"x": {"field": "x", "type": "quantitative", "scale": {"type": "log", "domain": [0.005821, 600], "nice": false}}, "y": {"field": "y", "type": "quantitative", "scale": {"type": "log", "domain": [0.0001, 10000], "nice": false}}, "text": {"field": "b"}}},
    {"data": {"name": "lab"}, "mark": {"type": "text", "align": "left", "baseline": "alphabetic", "font": "DejaVu Serif", "fontSize": 17, "dx": 71, "color": "#000000"},
     "encoding": {"x": {"field": "x", "type": "quantitative", "scale": {"type": "log", "domain": [0.005821, 600], "nice": false}}, "y": {"field": "y", "type": "quantitative", "scale": {"type": "log", "domain": [0.0001, 10000], "nice": false}}, "text": {"field": "c"}}},
    {"data": {"name": "B"}, "mark": {"type": "point", "filled": true, "opacity": 1, "size": 34, "strokeWidth": 0},
     "encoding": {
       "x": {"field": "x", "type": "quantitative", "scale": {"type": "log", "domain": [0.005821, 600], "nice": false},
         "axis": {"title": "Downwind distance x (km)", "titlePadding": 10,
           "values": [0.006,0.007,0.008,0.009,0.01,0.02,0.03,0.04,0.05,0.06,0.07,0.08,0.09,0.1,0.2,0.3,0.4,0.5,0.6,0.7,0.8,0.9,1,2,3,4,5,6,7,8,9,10,20,30,40,50,60,70,80,90,100,200,300,400,500,600],
           "labelExpr": "datum.value===0.01?'10⁻²':datum.value===0.1?'10⁻¹':datum.value===1?'10⁰':datum.value===10?'10¹':datum.value===100?'10²':''",
           "tickSize": {"condition": {"test": "datum.value===0.01||datum.value===0.1||datum.value===1||datum.value===10||datum.value===100", "value": 5}, "value": 2.5}}},
       "y": {"field": "y", "type": "quantitative", "scale": {"type": "log", "domain": [0.0001, 10000], "nice": false},
         "axis": {"title": "PECₛₒᵢₗ (μg/kg)", "titlePadding": 12, "values": [0.0001, 0.01, 1, 100, 10000], "tickSize": 5,
           "labelExpr": "datum.value===0.0001?'10⁻⁴':datum.value===0.01?'10⁻²':datum.value===1?'10⁰':datum.value===100?'10²':datum.value===10000?'10⁴':''"}},
       "color": {"field": "s", "type": "nominal", "scale": {"domain": ["10 years", "20 years", "30 years", "100 years"], "range": ["#000000", "#ff0000", "#0000ff", "#008000"]}},
       "shape": {"field": "s", "type": "nominal", "scale": {"domain": ["10 years", "20 years", "30 years", "100 years"], "range": ["circle", "M0,-1.1L1.05,0.75L-1.05,0.75Z", "square", "M0,-1.2L0.7,0L0,1.2L-0.7,0Z"]}}
     }}
  ]
}
],
"resolve": {"scale": {"color": "independent", "shape": "independent"}, "legend": {"color": "independent", "shape": "independent"}}
}
